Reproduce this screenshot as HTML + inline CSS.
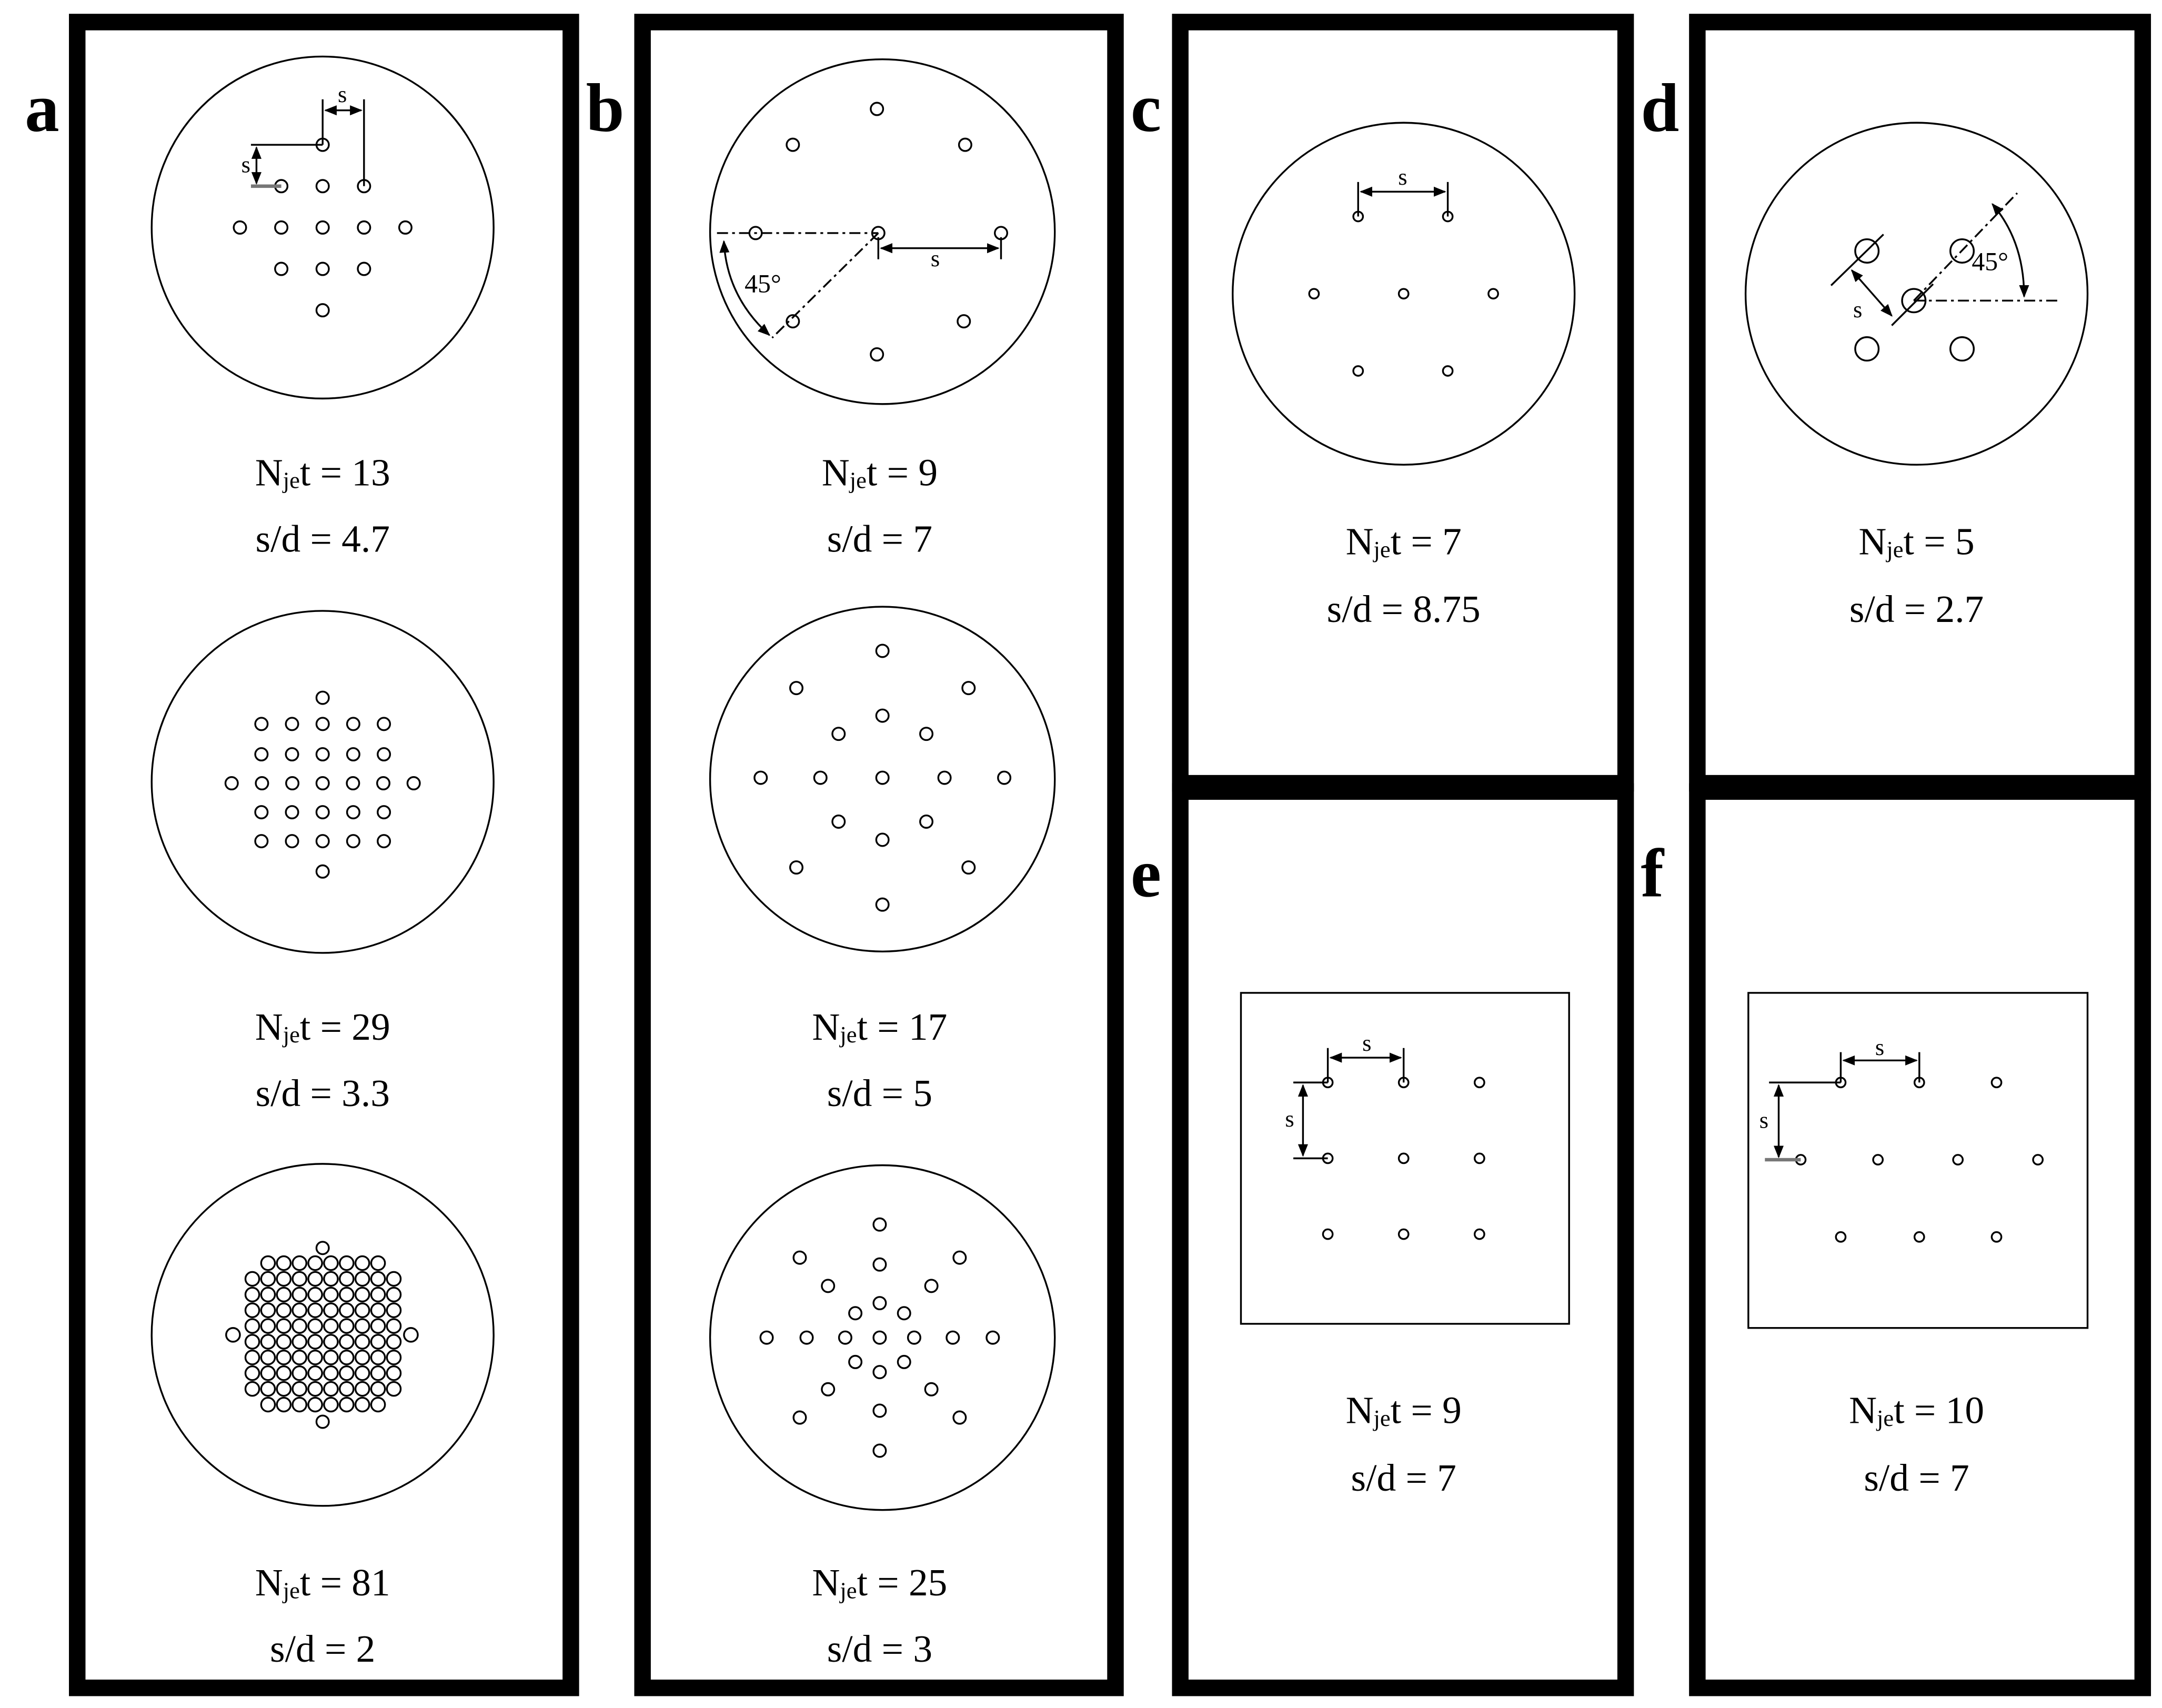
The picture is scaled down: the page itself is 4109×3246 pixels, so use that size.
<!DOCTYPE html>
<html><head><meta charset="utf-8"><style>
html,body{margin:0;padding:0;background:#fff;}
svg{display:block}
text{font-family:"Liberation Serif",serif;fill:#000}
</style></head><body>
<svg id="s" width="4109" height="3246" viewBox="0 0 1568 1238.6" preserveAspectRatio="none" xmlns="http://www.w3.org/2000/svg">
<defs>
<marker id="ar" viewBox="0 0 10 10" refX="9" refY="5" markerWidth="7" markerHeight="7" orient="auto-start-reverse"><path d="M0,1 L10,5 L0,9 z" fill="#000"/></marker>
</defs>
<rect width="1568" height="1239" fill="#fff"/>
<g fill="none" stroke="#000" stroke-width="12">
<rect x="56" y="16" width="358" height="1208"/>
<rect x="466" y="16" width="343" height="1208"/>
<rect x="856" y="16" width="323" height="552"/>
<rect x="856" y="574" width="323" height="650"/>
<rect x="1231" y="16" width="323" height="552"/>
<rect x="1231" y="574" width="323" height="650"/>
</g>
<g font-weight="bold" font-size="50">
<text x="18" y="95">a</text><text x="425" y="95">b</text><text x="820" y="95">c</text>
<text x="1190" y="95">d</text><text x="820" y="650">e</text><text x="1190" y="650">f</text>
</g>
<g fill="none" stroke="#000" stroke-width="1.3">
<circle cx="234" cy="165" r="124"/><circle cx="234" cy="567" r="124"/><circle cx="234" cy="968" r="124"/>
<circle cx="640" cy="168" r="125"/><circle cx="640" cy="565" r="125"/><circle cx="640" cy="970" r="125"/>
<circle cx="1018" cy="213" r="124"/><circle cx="1390" cy="213" r="124"/>
<rect x="900" y="720" width="238" height="240"/><rect x="1268" y="720" width="246" height="243"/>
</g>
<g id="holes" fill="none" stroke="#000" stroke-width="1.3"></g>
<g fill="none" stroke="#000" stroke-width="1.3">
<line x1="234" y1="105" x2="234" y2="72"/><line x1="264" y1="135" x2="264" y2="72"/>
<line x1="236" y1="80" x2="262" y2="80" marker-start="url(#ar)" marker-end="url(#ar)"/>
<line x1="182" y1="105" x2="234" y2="105"/><line x1="182" y1="135" x2="204" y2="135" stroke="#777" stroke-width="2.5"/>
<line x1="186" y1="107" x2="186" y2="133" marker-start="url(#ar)" marker-end="url(#ar)"/>
<line x1="520" y1="169" x2="637" y2="169" stroke-dasharray="8,3,2,3"/>
<line x1="637" y1="169" x2="560" y2="245" stroke-dasharray="8,3,2,3"/>
<path d="M525,175 Q527,215 558,243" marker-start="url(#ar)" marker-end="url(#ar)"/>
<line x1="637" y1="172" x2="637" y2="188"/><line x1="726" y1="172" x2="726" y2="188"/>
<line x1="639" y1="180" x2="724" y2="180" marker-start="url(#ar)" marker-end="url(#ar)"/>
<line x1="985" y1="132" x2="985" y2="157"/><line x1="1050" y1="132" x2="1050" y2="157"/>
<line x1="987" y1="139" x2="1048" y2="139" marker-start="url(#ar)" marker-end="url(#ar)"/>
<line x1="1388" y1="218" x2="1463" y2="140" stroke-dasharray="8,3,2,3"/>
<line x1="1388" y1="218" x2="1495" y2="218" stroke-dasharray="8,3,2,3"/>
<path d="M1445,148 Q1468,175 1468,215" marker-start="url(#ar)" marker-end="url(#ar)"/>
<line x1="1328" y1="207" x2="1366" y2="170"/><line x1="1372" y1="236" x2="1402" y2="206"/>
<line x1="1343" y1="196" x2="1372" y2="229" marker-start="url(#ar)" marker-end="url(#ar)"/>
<line x1="963" y1="760" x2="963" y2="785"/><line x1="1018" y1="760" x2="1018" y2="785"/>
<line x1="965" y1="767" x2="1016" y2="767" marker-start="url(#ar)" marker-end="url(#ar)"/>
<line x1="938" y1="785" x2="963" y2="785"/><line x1="938" y1="840" x2="963" y2="840"/>
<line x1="945" y1="787" x2="945" y2="838" marker-start="url(#ar)" marker-end="url(#ar)"/>
<line x1="1335" y1="763" x2="1335" y2="785"/><line x1="1392" y1="763" x2="1392" y2="785"/>
<line x1="1337" y1="769" x2="1390" y2="769" marker-start="url(#ar)" marker-end="url(#ar)"/>
<line x1="1283" y1="785" x2="1335" y2="785"/><line x1="1280" y1="841" x2="1306" y2="841" stroke="#777" stroke-width="2.5"/>
<line x1="1290" y1="787" x2="1290" y2="839" marker-start="url(#ar)" marker-end="url(#ar)"/>
</g>
<g font-size="17">
<text x="245" y="74">s</text><text x="175" y="125">s</text><text x="675" y="193">s</text>
<text x="1014" y="134">s</text><text x="1344" y="230">s</text><text x="988" y="762">s</text>
<text x="932" y="817">s</text><text x="1360" y="765">s</text><text x="1276" y="818">s</text>
<text x="540" y="212" font-size="19">45°</text><text x="1430" y="196" font-size="19">45°</text>
</g>
<g font-size="28" text-anchor="middle">
<text x="234" y="352">N<tspan font-size="17" dy="2">je</tspan><tspan dy="-2">t = 13</tspan></text>
<text x="234" y="400">s/d = 4.7</text>
<text x="234" y="754">N<tspan font-size="17" dy="2">je</tspan><tspan dy="-2">t = 29</tspan></text>
<text x="234" y="802">s/d = 3.3</text>
<text x="234" y="1157">N<tspan font-size="17" dy="2">je</tspan><tspan dy="-2">t = 81</tspan></text>
<text x="234" y="1205">s/d = 2</text>
<text x="638" y="352">N<tspan font-size="17" dy="2">je</tspan><tspan dy="-2">t = 9</tspan></text>
<text x="638" y="400">s/d = 7</text>
<text x="638" y="754">N<tspan font-size="17" dy="2">je</tspan><tspan dy="-2">t = 17</tspan></text>
<text x="638" y="802">s/d = 5</text>
<text x="638" y="1157">N<tspan font-size="17" dy="2">je</tspan><tspan dy="-2">t = 25</tspan></text>
<text x="638" y="1205">s/d = 3</text>
<text x="1018" y="402">N<tspan font-size="17" dy="2">je</tspan><tspan dy="-2">t = 7</tspan></text>
<text x="1018" y="451">s/d = 8.75</text>
<text x="1390" y="402">N<tspan font-size="17" dy="2">je</tspan><tspan dy="-2">t = 5</tspan></text>
<text x="1390" y="451">s/d = 2.7</text>
<text x="1018" y="1032">N<tspan font-size="17" dy="2">je</tspan><tspan dy="-2">t = 9</tspan></text>
<text x="1018" y="1081">s/d = 7</text>
<text x="1390" y="1032">N<tspan font-size="17" dy="2">je</tspan><tspan dy="-2">t = 10</tspan></text>
<text x="1390" y="1081">s/d = 7</text>
</g>
</svg>
<script>
var g=document.getElementById('holes'),NS='http://www.w3.org/2000/svg';
function h(x,y,r){var c=document.createElementNS(NS,'circle');c.setAttribute('cx',x);c.setAttribute('cy',y);c.setAttribute('r',r||4.5);g.appendChild(c);}
[[234,105],[204,135],[234,135],[264,135],[174,165],[204,165],[234,165],[264,165],[294,165],[204,195],[234,195],[264,195],[234,225]].forEach(p=>h(p[0],p[1]));
h(234,506);[525,547,589,610].forEach(y=>{for(var i=-2;i<=2;i++)h(234+i*22.2,y)});for(var i=-3;i<=3;i++)h(234+i*22,568);h(234,632);
h(234,905);h(234,1031);
for(var r=0;r<10;r++){var y=916+r*11.4;for(var c=0;c<10;c++){if((r==0||r==9)&&(c==0||c==9))continue;h(183+c*11.4,y,5);} }
h(169,968,5);h(298,968,5);
[[636,79],[575,105],[700,105],[548,169],[637,169],[726,169],[575,233],[699,233],[636,257]].forEach(p=>h(p[0],p[1]));
h(640,564);[45,92].forEach(R=>{for(var k=0;k<8;k++){var a=k*Math.PI/4;h(640+R*Math.sin(a)*(R>50?0.96:1),564-R*Math.cos(a));}});
h(638,970);[25,53,82].forEach(R=>{for(var k=0;k<8;k++){var a=k*Math.PI/4;h(638+R*Math.sin(a),970-R*Math.cos(a));}});
[[985,157],[1050,157],[953,213],[1018,213],[1083,213],[985,269],[1050,269]].forEach(p=>h(p[0],p[1],3.5));
[[1354,182],[1423,182],[1388,218],[1354,253],[1423,253]].forEach(p=>h(p[0],p[1],8.5));
[963,1018,1073].forEach(x=>[785,840,895].forEach(y=>h(x,y,3.5)));
[[1335,785],[1392,785],[1448,785],[1306,841],[1362,841],[1420,841],[1478,841],[1335,897],[1392,897],[1448,897]].forEach(p=>h(p[0],p[1],3.5));
</script>
</body></html>
